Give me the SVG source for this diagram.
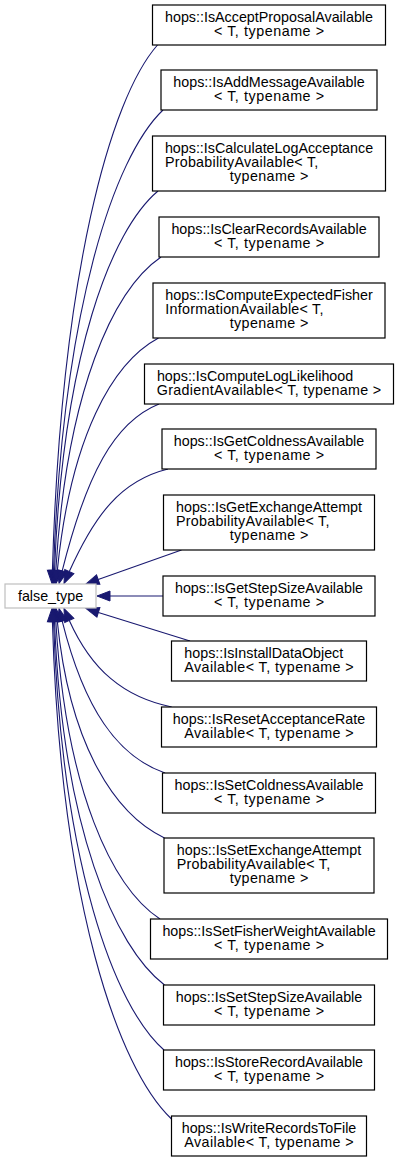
<svg xmlns="http://www.w3.org/2000/svg" width="400" height="1161" viewBox="0 0 400 1161">
<style>
.n rect{fill:#fff;stroke:#000;stroke-width:1.2}
#false_type rect{stroke:#bfbfbf}
text{font-family:"Liberation Sans",Arial,Helvetica,sans-serif;font-size:14.3px;fill:#000}
.m{text-anchor:middle}
.e path{fill:none;stroke:#191970;stroke-width:1.1}
</style>
<defs>
<marker id="ah" markerUnits="userSpaceOnUse" markerWidth="14" markerHeight="11" viewBox="-0.5 -0.5 14 11" refX="0" refY="5" orient="auto" style="overflow:visible">
<path d="M0,0 L13,5 L0,10 z" fill="#191970" stroke="#191970" stroke-width="1"/>
</marker>
</defs>
<g class="e" id="edges" marker-end="url(#ah)">
<path d="M157.5,45 C110,98.9 61.3,274.5 52.4,570.5" marker-end="url(#ah)"/>
<path d="M163,110 C113.5,157.4 62.6,310.5 53.5,570.5" marker-end="url(#ah)"/>
<path d="M158,191 C111.2,230.3 63.1,354.5 54.5,570.5" marker-end="url(#ah)"/>
<path d="M161,257 C113.3,289.7 66.6,390.5 55.8,570.5" marker-end="url(#ah)"/>
<path d="M158.5,338 C112.4,362.6 70.8,436.3 57.3,570.6" marker-end="url(#ah)"/>
<path d="M159,404 C114,422 86.3,474.9 62.2,570.9" marker-end="url(#ah)"/>
<path d="M168,469 C121.2,480.5 95.1,514.1 69.3,571.6" marker-end="url(#ah)"/>
<path d="M181.5,550 L98.2,579.6" marker-end="url(#ah)"/>
<path d="M163,596 L110,596" marker-end="url(#ah)"/>
<path d="M190,641 L98.4,612.4" marker-end="url(#ah)"/>
<path d="M171.7,707 C123.2,697.1 91.4,669.6 69.3,620.4" marker-end="url(#ah)"/>
<path d="M165,773 C117.3,756.5 84.2,708.9 62.2,621.1" marker-end="url(#ah)"/>
<path d="M164.5,838 C115.7,815 69.9,746.8 57.3,621.4" marker-end="url(#ah)"/>
<path d="M160,919 C112.7,888 66.1,792.2 55.8,621.5" marker-end="url(#ah)"/>
<path d="M164.5,985 C114.8,947.3 62.8,828.3 54.5,621.5" marker-end="url(#ah)"/>
<path d="M164,1050 C114,1006 62,864.3 53.5,621.5" marker-end="url(#ah)"/>
<path d="M171.5,1119 C117.7,1068 60.8,902.5 52.4,621.5" marker-end="url(#ah)"/>
</g>
<g class="n" id="false_type"><rect x="5" y="584" width="91" height="24"/><text class="m" x="50.5" y="600.5">false_type</text></g>
<g class="n" id="n1"><rect x="152.5" y="5" width="233" height="40"/><text class="m" x="269" y="22.3">hops::IsAcceptProposalAvailable</text><text class="m" x="269" y="36.3" textLength="110">&lt; T, typename &gt;</text></g>
<g class="n" id="n2"><rect x="161" y="70" width="216" height="40"/><text class="m" x="269" y="87.3">hops::IsAddMessageAvailable</text><text class="m" x="269" y="101.3" textLength="110">&lt; T, typename &gt;</text></g>
<g class="n" id="n3"><rect x="152.5" y="136" width="233" height="55"/><text x="164.9" y="153.3">hops::IsCalculateLogAcceptance</text><text x="164.9" y="167.3" textLength="153.4">ProbabilityAvailable&lt; T,</text><text class="m" x="269" y="181.3" textLength="78.7">typename &gt;</text></g>
<g class="n" id="n4"><rect x="159" y="217" width="220" height="40"/><text class="m" x="269" y="234.3">hops::IsClearRecordsAvailable</text><text class="m" x="269" y="248.3" textLength="110">&lt; T, typename &gt;</text></g>
<g class="n" id="n5"><rect x="153" y="283" width="232" height="55"/><text x="165.3" y="300.3">hops::IsComputeExpectedFisher</text><text x="165.3" y="314.3" textLength="158.2">InformationAvailable&lt; T,</text><text class="m" x="269" y="328.3" textLength="78.7">typename &gt;</text></g>
<g class="n" id="n6"><rect x="144.5" y="364" width="249" height="40"/><text x="156.9" y="381.3">hops::IsComputeLogLikelihood</text><text class="m" x="269" y="395.3" textLength="224.3">GradientAvailable&lt; T, typename &gt;</text></g>
<g class="n" id="n7"><rect x="162" y="429" width="214" height="40"/><text class="m" x="269" y="446.3">hops::IsGetColdnessAvailable</text><text class="m" x="269" y="460.3" textLength="110">&lt; T, typename &gt;</text></g>
<g class="n" id="n8"><rect x="163.5" y="495" width="211" height="55"/><text x="176" y="512.3">hops::IsGetExchangeAttempt</text><text x="176" y="526.3" textLength="153.4">ProbabilityAvailable&lt; T,</text><text class="m" x="269" y="540.3" textLength="78.7">typename &gt;</text></g>
<g class="n" id="n9"><rect x="163" y="576" width="212" height="40"/><text class="m" x="269" y="593.3">hops::IsGetStepSizeAvailable</text><text class="m" x="269" y="607.3" textLength="110">&lt; T, typename &gt;</text></g>
<g class="n" id="n10"><rect x="171.5" y="641" width="195" height="40"/><text x="184.3" y="658.3">hops::IsInstallDataObject</text><text class="m" x="269" y="672.3" textLength="169.4">Available&lt; T, typename &gt;</text></g>
<g class="n" id="n11"><rect x="161.5" y="707" width="215" height="40"/><text class="m" x="269" y="724.3">hops::IsResetAcceptanceRate</text><text class="m" x="269" y="738.3" textLength="169.4">Available&lt; T, typename &gt;</text></g>
<g class="n" id="n12"><rect x="162.5" y="773" width="213" height="40"/><text class="m" x="269" y="790.3">hops::IsSetColdnessAvailable</text><text class="m" x="269" y="804.3" textLength="110">&lt; T, typename &gt;</text></g>
<g class="n" id="n13"><rect x="164" y="838" width="210" height="55"/><text x="176.8" y="855.3">hops::IsSetExchangeAttempt</text><text x="176.8" y="869.3" textLength="153.4">ProbabilityAvailable&lt; T,</text><text class="m" x="269" y="883.3" textLength="78.7">typename &gt;</text></g>
<g class="n" id="n14"><rect x="150.5" y="919" width="237" height="40"/><text class="m" x="269" y="936.3">hops::IsSetFisherWeightAvailable</text><text class="m" x="269" y="950.3" textLength="110">&lt; T, typename &gt;</text></g>
<g class="n" id="n15"><rect x="163.5" y="985" width="211" height="40"/><text class="m" x="269" y="1002.3">hops::IsSetStepSizeAvailable</text><text class="m" x="269" y="1016.3" textLength="110">&lt; T, typename &gt;</text></g>
<g class="n" id="n16"><rect x="163.5" y="1050" width="211" height="40"/><text class="m" x="269" y="1067.3">hops::IsStoreRecordAvailable</text><text class="m" x="269" y="1081.3" textLength="110">&lt; T, typename &gt;</text></g>
<g class="n" id="n17"><rect x="171.5" y="1116" width="195" height="40"/><text class="m" x="269" y="1133.3">hops::IsWriteRecordsToFile</text><text class="m" x="269" y="1147.3" textLength="169.4">Available&lt; T, typename &gt;</text></g>
</svg>
